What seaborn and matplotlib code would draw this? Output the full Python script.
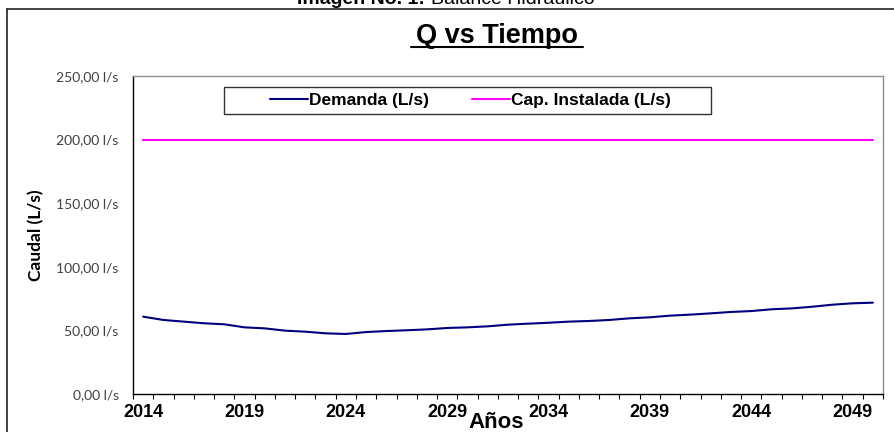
import numpy as np
import pandas as pd
import matplotlib
matplotlib.use("Agg")
import matplotlib.pyplot as plt
from matplotlib.ticker import FuncFormatter, FixedLocator
from matplotlib.lines import Line2D
from matplotlib.patches import Rectangle
import seaborn as sns

# data
years = list(range(2014, 2051))
demanda = [60.8, 58.2, 56.9, 55.6, 54.8, 52.4, 51.6, 49.8, 49.0, 47.7,
           47.2, 48.7, 49.5, 50.1, 50.8, 51.9, 52.4, 53.2, 54.5, 55.3,
           56.0, 56.9, 57.4, 58.2, 59.5, 60.3, 61.6, 62.4, 63.4, 64.5,
           65.2, 66.6, 67.3, 68.6, 70.2, 71.3, 71.8]
cap_instalada = [200.0] * len(years)
y_ticks = [0, 50, 100, 150, 200, 250]
x_labels = [2014, 2019, 2024, 2029, 2034, 2039, 2044, 2049]

series_names = ["Demanda (L/s)", "Cap. Instalada (L/s)"]
df = pd.DataFrame({
    "Año": years * 2,
    "Caudal": demanda + cap_instalada,
    "Serie": [series_names[0]] * len(years) + [series_names[1]] * len(years),
})

sns.set_style("white")
plt.rcParams["font.family"] = ["Liberation Sans", "DejaVu Sans"]
plt.rcParams["text.color"] = "black"

fig = plt.figure(figsize=(8.94, 4.32), dpi=100)
ax = fig.add_axes([133 / 894, 38 / 432, 750 / 894, 318 / 432])

sns.lineplot(data=df, x="Año", y="Caudal", hue="Serie",
             palette={series_names[0]: "#000080", series_names[1]: "#FF00FF"},
             linewidth=1.5, ax=ax, legend=False)

ax.set_xlim(2013.5, 2050.5)
ax.set_ylim(0, 250)
ax.set_yticks(y_ticks)
ax.yaxis.set_major_formatter(FuncFormatter(lambda v, p: f"{v:.2f}".replace(".", ",") + " l/s"))
ax.tick_params(axis="y", which="major", direction="out", length=4.3, width=0.8,
               color="black", labelsize=10, labelcolor="#404040", pad=6)
for lab in ax.get_yticklabels():
    lab.set_family(["Lato", "DejaVu Sans"])

ax.set_xticks(x_labels)
ax.set_xticklabels([str(x) for x in x_labels], fontsize=13, fontweight="bold",
                   color="black")
ax.tick_params(axis="x", which="major", length=0, pad=7)
ax.xaxis.set_minor_locator(FixedLocator(np.arange(2013.5, 2051, 1)))
ax.tick_params(axis="x", which="minor", direction="out", length=3.5, width=0.8,
               color="black", bottom=True)

for s in ["left", "bottom"]:
    ax.spines[s].set_color("black")
    ax.spines[s].set_linewidth(1.0)
for s in ["top", "right"]:
    ax.spines[s].set_color("#909090")
    ax.spines[s].set_linewidth(1.0)

ax.set_xlabel("")
ax.set_ylabel("Caudal (L/s)", fontsize=12.5, fontweight="bold", color="black",
              family=["Lato", "DejaVu Sans"])
ax.yaxis.set_label_coords(-(133 - 44) / 750, 0.5)
fig.text(496 / 894, 1 - 422 / 432, "Años", ha="center", va="center",
         fontsize=16, fontweight="bold")

fig.text(497 / 894, 1 - 36 / 432, "Q vs Tiempo", ha="center", va="center",
         fontsize=19.5, fontweight="bold")
fig.add_artist(Line2D([411 / 894, 583 / 894], [1 - 46.5 / 432, 1 - 46.5 / 432],
                      color="black", linewidth=1.5))

# cut-off caption at the top
fig.text(425 / 894, 1 - 4 / 432, "Imagen No. 1:", ha="right", va="baseline",
         fontsize=14, fontweight="bold")
fig.text(431 / 894, 1 - 4 / 432, "Balance Hidráulico", ha="left", va="baseline",
         fontsize=14)

# outer frame
fig.add_artist(Line2D([7 / 894, 1.0], [1 - 9 / 432, 1 - 9 / 432], color="#222222", linewidth=1.2))
fig.add_artist(Line2D([7 / 894, 7 / 894], [0, 1 - 9 / 432], color="#222222", linewidth=1.2))

# legend with its own box
fig.add_artist(Rectangle((224 / 894, 1 - 114 / 432), 487 / 894, 27 / 432,
                         transform=fig.transFigure, facecolor="white",
                         edgecolor="#333333", linewidth=1.0))
handles = [Line2D([], [], color="#000080", linewidth=1.5),
           Line2D([], [], color="#FF00FF", linewidth=1.5)]
leg = fig.legend(handles, series_names, loc="center", ncol=2,
                 bbox_to_anchor=(470.5 / 894, 1 - 100.5 / 432),
                 frameon=False,
                 prop={"size": 12.5, "weight": "bold"},
                 handlelength=2.2, handletextpad=0.05, columnspacing=2.5,
                 borderpad=0.2)

fig.savefig("out.png", dpi=100)
